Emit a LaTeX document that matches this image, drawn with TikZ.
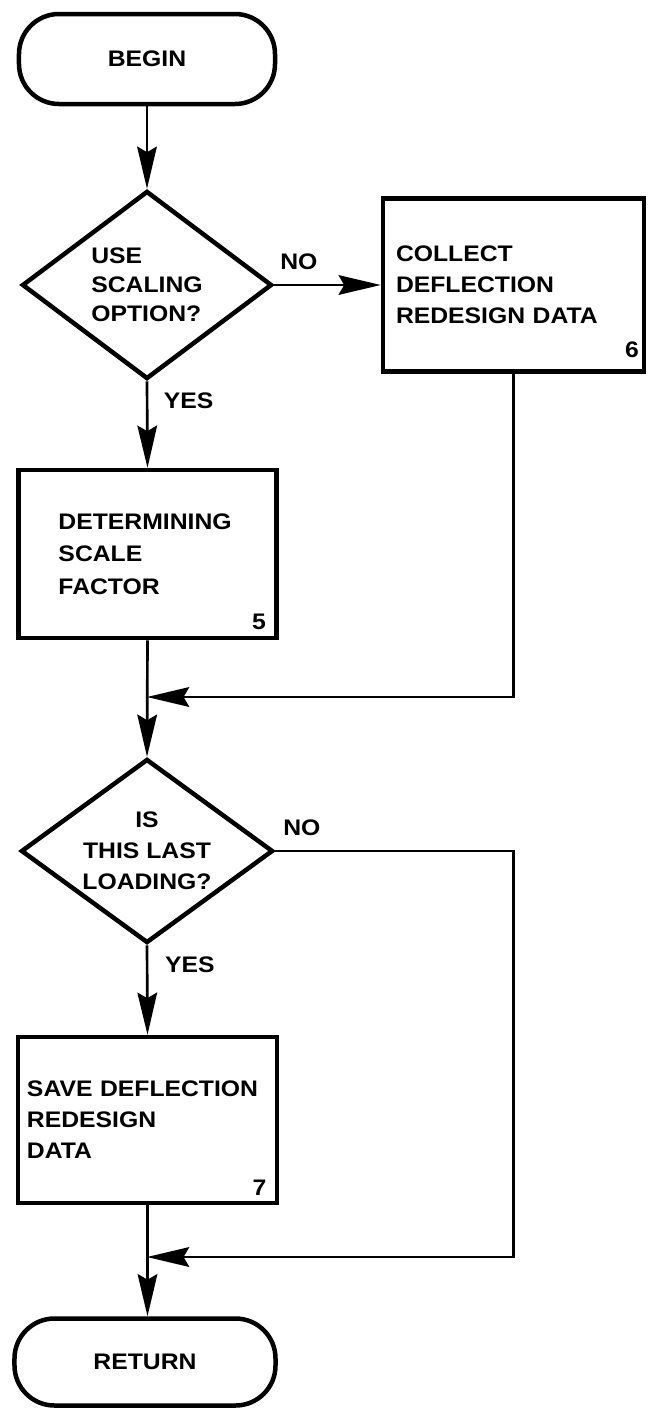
\documentclass[tikz,border=0pt]{standalone}
\usepackage{fontspec}
\setmainfont{Liberation Sans}[FakeStretch=1.1]
\usepackage{tikz}
\usetikzlibrary{arrows.meta}
\usetikzlibrary{shapes.geometric}
\usetikzlibrary{positioning}
\tikzstyle{term}=[rectangle,draw=black,line width=3.2pt,rounded corners=1cm,align=center]
\tikzstyle{proc}=[rectangle,draw=black,line width=3.2pt,align=left]
\tikzstyle{dec}=[diamond,draw=black,line width=3.2pt,inner sep=0pt,aspect=1.3]
\tikzstyle{flow}=[-{Stealth[length=30pt,width=14pt,inset=4pt]},draw=black,line width=1.9pt]
\tikzstyle{tag}=[anchor=south east,inner xsep=9pt,inner ysep=7pt]

\begin{document}
\begin{tikzpicture}[x=0.25mm,y=-0.25mm,font=\fontsize{16pt}{22pt}\selectfont\bfseries]
    \useasboundingbox (0,0) rectangle (654,1412);
    \node[term,minimum width=6.4cm,minimum height=2.25cm] (B) at (147,59) {BEGIN};
    \node[dec,minimum width=6.25cm,minimum height=4.7cm,align=left,font=\fontsize{16pt}{20.5pt}\selectfont\bfseries] (Q1) at (147,285) {USE\\SCALING\\OPTION?};
    \node[proc,minimum height=4.325cm,text width=5.875cm,inner xsep=0.325cm,label={[tag,inner xsep=5pt,inner ysep=11pt]south east:6}] (S6) at (513.5,285) {COLLECT\\DEFLECTION\\REDESIGN DATA};
    \node[proc,minimum height=4.2cm,text width=4.45cm,inner xsep=1cm,font=\fontsize{16pt}{23pt}\selectfont\bfseries,label={[tag]south east:5}] (S5) at (147.5,554) {DETERMINING\\SCALE\\FACTOR};
    \node[dec,minimum width=6.3cm,minimum height=4.6cm,align=center] (Q2) at (147,851) {IS\\THIS LAST\\LOADING?};
    \node[proc,minimum height=4.15cm,text width=6.025cm,inner xsep=0.225cm,label={[tag]south east:7}] (S7) at (147.5,1120) {SAVE DEFLECTION\\REDESIGN\\DATA};
    \node[term,minimum width=6.525cm,minimum height=2.175cm] (R) at (145,1362) {RETURN};
    \coordinate (J1) at (147,697);
    \coordinate (J2) at (147,1257);
    \draw[flow] (B) -- (Q1);
    \draw[flow] (Q1.east) -- node[above right=0.22cm and 0cm,pos=0] {NO} (S6.west);
    \draw[flow] (Q1.south) -- node[below right=0.13cm and 0.27cm,pos=0] {YES} (S5.north);
    \draw[flow] (S5.south) -- (Q2.north);
    \draw[flow] (S6.south) |- (J1);
    \draw[flow] (Q2.east) -- node[above right=0.22cm and 0.05cm,pos=0] {NO} (S6.south |- Q2.east) |- (J2);
    \draw[flow] (Q2.south) -- node[below right=0.15cm and 0.3cm,pos=0] {YES} (S7.north);
    \draw[flow] (S7.south) -- (S7.south |- R.north);
\end{tikzpicture}
\end{document}
